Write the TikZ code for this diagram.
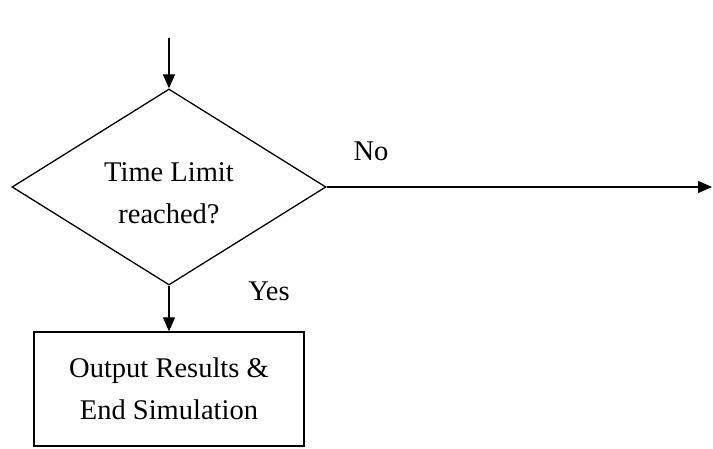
\documentclass[tikz,border=0pt]{standalone}
\usepackage{fontspec}
\setmainfont{Liberation Serif}
\usetikzlibrary{shapes.geometric,arrows.meta}
\begin{document}
\begin{tikzpicture}[x=1pt,y=1pt,
  line width=1.3pt,
  arr/.style={-{Triangle[length=14pt,width=12pt]}},
  txt/.style={font=\fontsize{28.5}{42}\selectfont, align=center},
  decision/.style={draw, diamond, inner sep=0pt, minimum width=314pt, minimum height=196pt, aspect=1.6},
  procbox/.style={draw, rectangle, inner sep=0pt, minimum width=270pt, minimum height=114pt}]
\useasboundingbox (0,0) rectangle (713,449);
\coordinate (start) at (169,411);
\node[decision] (dec) at (169,262) {};
\node[txt] (dectext) at (169,256) {Time Limit\\reached?};
\node[procbox, txt] (out) at (169,60) {Output Results \&\\End Simulation};
\coordinate (exit) at (712,262);
\draw[arr] (start) -- (dec.north);
\draw[arr] (dec.south) -- (out.north);
\draw[arr] (dec.east) -- (exit);
\node[txt] (no) at (371,298) {No};
\node[txt] (yes) at (269,158) {Yes};
\end{tikzpicture}
\end{document}
